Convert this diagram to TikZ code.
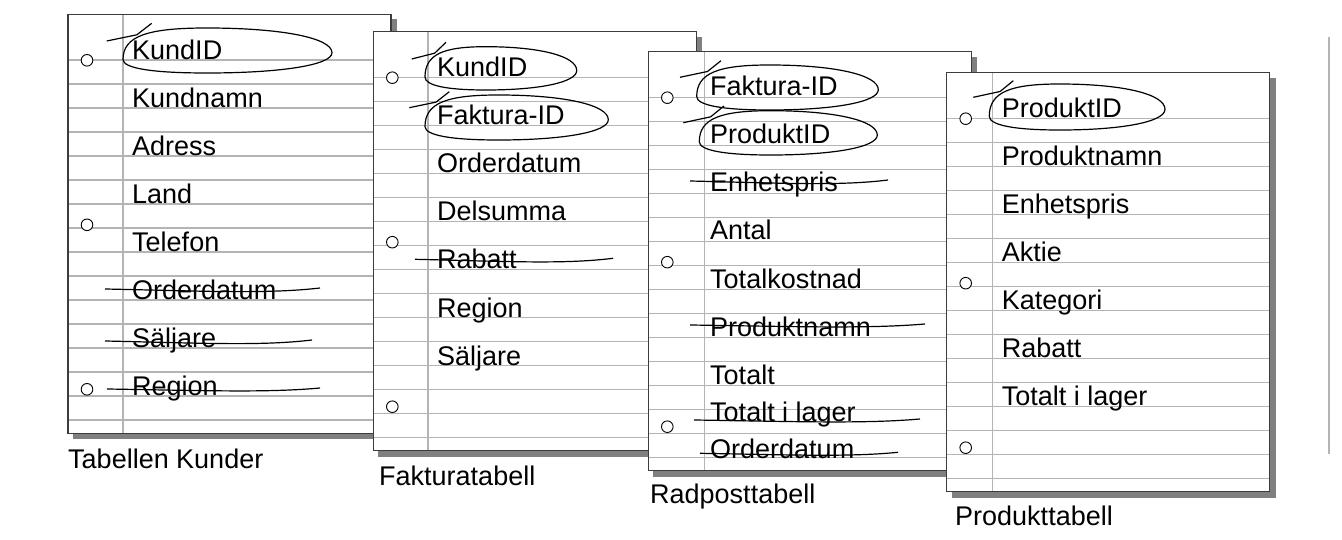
\documentclass[tikz,border=0pt]{standalone}
\usepackage{fontspec}
\setmainfont{Liberation Sans}
\usetikzlibrary{positioning}

\definecolor{rulegray}{RGB}{180,180,180}
\definecolor{framegray}{RGB}{60,60,60}
\definecolor{shadowgray}{RGB}{128,128,128}

% one ruled sheet: left, top, margin
\newcommand{\blatt}[3]{%
  \fill[shadowgray] (#1+5,#2+5) rectangle (#1+329,#2+425);
  \fill[white] (#1,#2) rectangle (#1+323,#2+419);
  \foreach \k in {0,...,15}
    \draw[rule] (#1,#2+45.8+24*\k) -- (#1+323,#2+45.8+24*\k);
  \draw[rule] (#1+#3,#2) -- (#1+#3,#2+419);
  \foreach \h in {46,210.5,375}
    \draw[hole] (#1+19,#2+\h) circle (5.8pt);
  \draw[frame] (#1,#2) rectangle (#1+323,#2+419);
}
% hand drawn strike: x1, x2, y, sag
\newcommand{\streich}[4]{%
  \draw[pen] (#1,#3) .. controls ({#1+0.45*(#2-#1)},{#3+0.5*#4}) and ({#1+0.75*(#2-#1)},{#3+1.3*#4}) .. (#2,{#3-1});
}
% hand drawn loop: left, right, top, bottom, tail A (x,y), tail B (x,y)
\newcommand{\schlinge}[8]{%
  \pgfmathsetmacro\ovCx{#1+0.4*(#2-#1)}
  \pgfmathsetmacro\ovYl{#3+0.7*(#4-#3)}
  \pgfmathsetmacro\ovYr{#3+0.55*(#4-#3)}
  \draw[pen] (#1,\ovYl) .. controls (#1,{\ovYl-0.75*(\ovYl-#3)}) and ({\ovCx-0.7*(\ovCx-#1)},#3) .. (\ovCx,#3)
    .. controls ({\ovCx+0.6*(#2-\ovCx)},#3) and (#2,{\ovYr-0.6*(\ovYr-#3)}) .. (#2,\ovYr)
    .. controls (#2,{\ovYr+0.6*(#4-\ovYr)}) and ({\ovCx+0.6*(#2-\ovCx)},#4) .. (\ovCx,#4)
    .. controls ({\ovCx-0.65*(\ovCx-#1)},#4) and (#1,{\ovYl+0.65*(#4-\ovYl)}) .. cycle;
  \draw[pen] (#5,#6) -- ({#5+0.67*(#7-#5)},{#6-0.35*(#6-#8)}) -- (#7,#8);
}

\begin{document}
\begin{tikzpicture}[x=1pt,y=-1pt,
    rule/.style={rulegray,line width=1.3pt},
    frame/.style={framegray,line width=1.2pt},
    hole/.style={black,line width=0.9pt,fill=white},
    pen/.style={black,line width=1.2pt},
    feld/.style={anchor=base west,inner sep=0pt,font=\fontsize{27}{30}\selectfont},
    titel/.style={anchor=base west,inner sep=0pt,font=\fontsize{27}{30}\selectfont}]
    \useasboundingbox (0,0) rectangle (1342,540);

    % Tabellen Kunder
    \blatt{68}{14.3}{55}
    \foreach \t [count=\i] in {KundID,Kundnamn,Adress,Land,Telefon,Orderdatum,S\"aljare,Region}
        \node[feld] (k\i) at (132,59.6+48*\i-48) {\t};
    \node[titel] (tk) at (68,468) {Tabellen Kunder};
    \schlinge{123}{332}{28}{73}{106.7}{41}{151.7}{23.3}
    \streich{105}{320}{289}{4}
    \streich{105}{312}{341}{4}
    \streich{107}{320}{389}{3}

    % Fakturatabell
    \blatt{373.3}{31.7}{54.7}
    \foreach \t [count=\i] in {KundID,Faktura-ID,Orderdatum,Delsumma,Rabatt,Region,S\"aljare}
        \node[feld] (f\i) at (437,77+48*\i-48) {\t};
    \node[titel] (tf) at (379,485) {Fakturatabell};
    \schlinge{425}{576.7}{46.7}{90}{411.7}{59}{446}{42.3}
    \schlinge{425}{608.3}{95}{140}{409.3}{107.7}{449.3}{91.7}
    \streich{415}{613}{259.3}{4}

    % Radposttabell
    \blatt{648.3}{51.7}{56}
    \foreach \t [count=\i] in {Faktura-ID,ProduktID,Enhetspris,Antal,Totalkostnad,Produktnamn,Totalt}
        \node[feld] (r\i) at (710,96+48*\i-48) {\t};
    \node[feld] (r8) at (710,421.5) {Totalt i lager};
    \node[feld] (r9) at (710,458.5) {Orderdatum};
    \node[titel] (tr) at (650,503) {Radposttabell};
    \schlinge{696.7}{878.3}{65}{110}{680}{77.3}{721}{60.7}
    \schlinge{699.3}{877.3}{110.7}{155}{683.3}{122.7}{724}{106}
    \streich{690}{888}{181}{4}
    \streich{690}{925}{325}{3}
    \streich{694}{920}{420}{3}
    \streich{700}{898}{453.3}{3}

    % Produkttabell
    \blatt{946.7}{72.7}{46}
    \foreach \t [count=\i] in {ProduktID,Produktnamn,Enhetspris,Aktie,Kategori,Rabatt,Totalt i lager}
        \node[feld] (p\i) at (1001.7,117.3+48*\i-48) {\t};
    \node[titel] (tp) at (955,525) {Produkttabell};
    \schlinge{989.3}{1165}{84}{130}{973.3}{97.3}{1013.3}{80.7}

    \draw[rule] (1329,36.7) -- (1329,454.3);
\end{tikzpicture}
\end{document}
